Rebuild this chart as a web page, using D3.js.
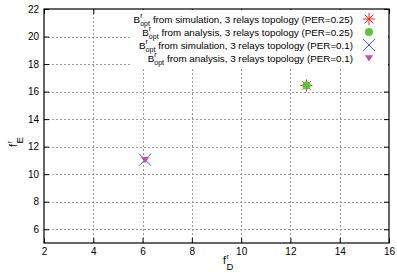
<!DOCTYPE html>
<html>
<head>
<meta charset="utf-8">
<script src="https://cdn.jsdelivr.net/npm/d3@7"></script>
<style>
  body { margin: 0; background: #fff; }
  text { font-family: "Liberation Sans", Arial, sans-serif; fill: #000; }
</style>
</head>
<body>
<div id="chart"></div>
<script>
// data
var seriesLabels = [
  "from simulation, 3 relays topology (PER=0.25)",
  "from analysis, 3 relays topology (PER=0.25)",
  "from simulation, 3 relays topology (PER=0.1)",
  "from analysis, 3 relays topology (PER=0.1)"
];
var seriesMarkers = ["star", "circle", "cross", "triangle"];
var seriesColors = ["#ff1a1a", "#5cc43c", "#3c64c8", "#c04fb0"];
var seriesX = [12.65, 12.65, 6.1, 6.1];
var seriesY = [16.45, 16.45, 11.05, 11.05];
var xTicks = [2, 4, 6, 8, 10, 12, 14, 16];
var yTicks = [6, 8, 10, 12, 14, 16, 18, 20, 22];

var W = 397, H = 273;
var x = d3.scaleLinear().domain([2, 16]).range([44, 389]);
var y = d3.scaleLinear().domain([5, 22]).range([243, 9]);

var svg = d3.select("#chart").append("svg")
  .attr("width", W).attr("height", H);

// grid
var grid = svg.append("g").attr("stroke", "#9a9a9a").attr("stroke-dasharray", "2,2").attr("stroke-width", 1);
grid.selectAll(".gx").data(xTicks.slice(1, -1)).enter().append("line")
  .attr("x1", function(d) { return Math.round(x(d)) + 0.5; })
  .attr("x2", function(d) { return Math.round(x(d)) + 0.5; })
  .attr("y1", y(5)).attr("y2", y(22));
grid.selectAll(".gy").data(yTicks.slice(0, -1)).enter().append("line")
  .attr("y1", function(d) { return Math.round(y(d)) + 0.5; })
  .attr("y2", function(d) { return Math.round(y(d)) + 0.5; })
  .attr("x1", x(2)).attr("x2", x(16));

// axes with inward ticks on all sides
function styleAxis(g) {
  g.select(".domain").remove();
  g.selectAll("line").attr("stroke", "#000");
  g.selectAll("text").style("font-size", "10px").style("font-family", "Liberation Sans, Arial, sans-serif");
}
svg.append("g").attr("transform", "translate(0," + y(5) + ")")
  .call(d3.axisBottom(x).tickValues(xTicks).tickSizeInner(-5).tickSizeOuter(0).tickPadding(5))
  .call(styleAxis);
svg.append("g").attr("transform", "translate(0," + y(22) + ")")
  .call(d3.axisTop(x).tickValues(xTicks).tickSizeInner(-5).tickSizeOuter(0).tickFormat(""))
  .call(styleAxis);
svg.append("g").attr("transform", "translate(" + x(2) + ",0)")
  .call(d3.axisLeft(y).tickValues(yTicks).tickSizeInner(-5).tickSizeOuter(0).tickPadding(5))
  .call(styleAxis);
svg.append("g").attr("transform", "translate(" + x(16) + ",0)")
  .call(d3.axisRight(y).tickValues(yTicks).tickSizeInner(-5).tickSizeOuter(0).tickFormat(""))
  .call(styleAxis);

// legend (opaque box)
var legX = 353, legY0 = 19, legDy = 13;
var leg = svg.append("g");
var legBg = leg.append("rect").attr("fill", "#fff");
var minLeft = 1e9;
seriesLabels.forEach(function(lbl, i) {
  var yy = legY0 + i * legDy + 3.5;
  var t = leg.append("text").attr("x", legX).attr("y", yy)
    .attr("text-anchor", "end").style("font-size", "9.8px").text(lbl);
  var w = t.node().getComputedTextLength();
  var sub = leg.append("text").attr("x", legX - w - 3).attr("y", yy + 3)
    .attr("text-anchor", "end").style("font-size", "7px").text("opt");
  var sw = sub.node().getComputedTextLength();
  var s0 = legX - w - 3 - sw;
  leg.append("text").attr("x", s0).attr("y", yy - 4.5)
    .style("font-size", "7px").text("r");
  leg.append("text").attr("x", s0).attr("y", yy)
    .attr("text-anchor", "end").style("font-size", "9.8px").text("B");
  minLeft = Math.min(minLeft, s0 - 8);
});
legBg.attr("x", minLeft - 2).attr("y", y(22) + 1)
  .attr("width", x(16) - minLeft + 1).attr("height", legY0 + 3 * legDy + 8 - y(22));

// markers
function drawMarker(g, type, cx, cy, color) {
  if (type === "star") {
    var r = 6;
    g.append("path").attr("stroke", color).attr("stroke-width", 1).attr("fill", "none")
      .attr("d", "M" + (cx - r) + "," + cy + "H" + (cx + r) + "M" + cx + "," + (cy - r) + "V" + (cy + r) +
        "M" + (cx - r * 0.72) + "," + (cy - r * 0.72) + "L" + (cx + r * 0.72) + "," + (cy + r * 0.72) +
        "M" + (cx - r * 0.72) + "," + (cy + r * 0.72) + "L" + (cx + r * 0.72) + "," + (cy - r * 0.72));
  } else if (type === "circle") {
    g.append("circle").attr("cx", cx).attr("cy", cy).attr("r", 4).attr("fill", color);
  } else if (type === "cross") {
    var c = 6;
    g.append("path").attr("stroke", color).attr("stroke-width", 1).attr("fill", "none")
      .attr("d", "M" + (cx - c) + "," + (cy - c) + "L" + (cx + c) + "," + (cy + c) +
        "M" + (cx - c) + "," + (cy + c) + "L" + (cx + c) + "," + (cy - c));
  } else if (type === "triangle") {
    var tr = 4;
    g.append("path").attr("fill", color)
      .attr("d", "M" + (cx - tr) + "," + (cy - tr * 0.7) + "L" + (cx + tr) + "," + (cy - tr * 0.7) +
        "L" + cx + "," + (cy + tr * 0.9) + "Z");
  }
}
var marks = svg.append("g");
seriesX.forEach(function(d, i) {
  drawMarker(marks, seriesMarkers[i], x(d), y(seriesY[i]), seriesColors[i]);
  drawMarker(marks, seriesMarkers[i], 369, legY0 + i * legDy, seriesColors[i]);
});

// frame
svg.append("rect").attr("x", x(2)).attr("y", y(22))
  .attr("width", x(16) - x(2)).attr("height", y(5) - y(22))
  .attr("fill", "none").attr("stroke", "#000").attr("stroke-width", 1.2);

// axis labels
function axisLabel(cx, cy, sub, rotate) {
  var g = svg.append("g").attr("transform", "translate(" + cx + "," + cy + ")" + (rotate ? " rotate(-90)" : ""));
  g.append("text").attr("x", 0).attr("y", 0).attr("text-anchor", "end").style("font-size", "10.5px").text("f");
  g.append("text").attr("x", 0.5).attr("y", -5.5).style("font-size", "7px").text("r");
  g.append("text").attr("x", 0.5).attr("y", 6).style("font-size", "9.5px").text(sub);
}
axisLabel(226, 264, "D", false);
axisLabel(17, 144, "E", true);
</script>
</body>
</html>
